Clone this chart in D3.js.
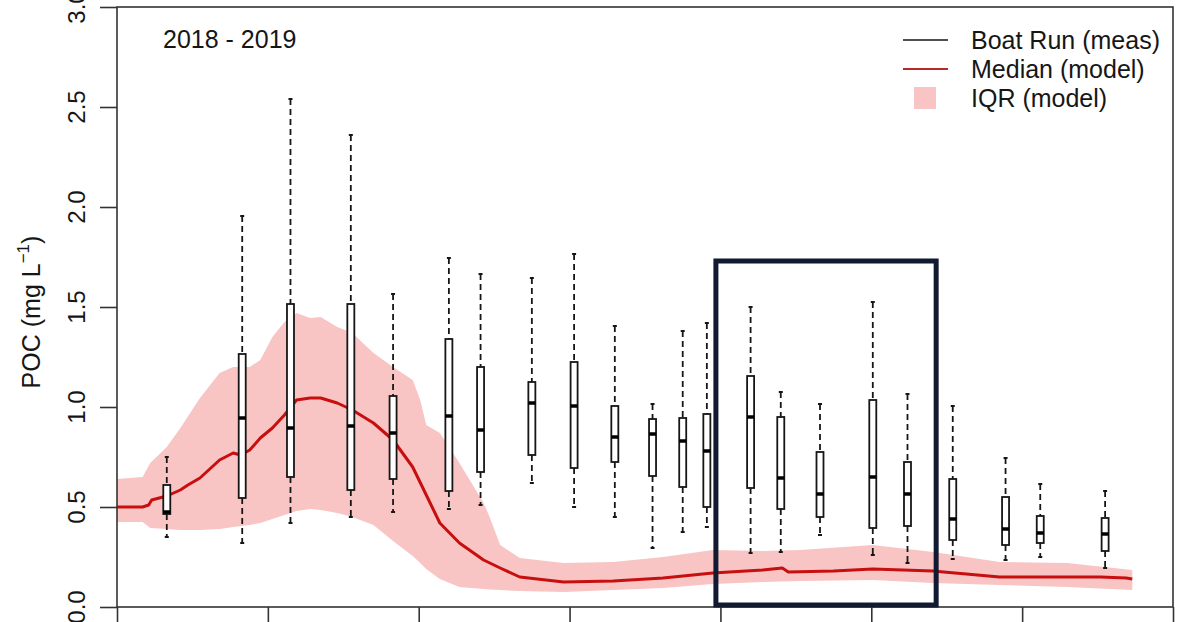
<!DOCTYPE html>
<html>
<head>
<meta charset="utf-8">
<script src="https://cdn.jsdelivr.net/npm/d3@7"></script>
<style>
  body { margin: 0; background: #fff; }
  svg { display: block; font-family: "Liberation Sans", Arial, sans-serif; }
</style>
</head>
<body>
<svg id="chart" width="1190" height="622"></svg>
<script>
// x is in axis-tick units (8 ticks, 0..7), y is POC in mg/L

// model IQR band
const bandX    = [0, 0.17, 0.22, 0.33, 0.42, 0.55, 0.68, 0.77, 0.88, 0.95, 1.03, 1.11, 1.19, 1.28, 1.35, 1.46, 1.56, 1.70, 1.83, 1.96, 2.01, 2.05, 2.14, 2.27, 2.43, 2.47, 2.54, 2.67, 2.96, 3.29, 3.62, 3.95, 4.28, 4.53, 5.01, 5.41, 5.85, 6.30, 6.73];
const bandLow  = [0.425, 0.425, 0.395, 0.39, 0.385, 0.385, 0.39, 0.40, 0.41, 0.42, 0.44, 0.46, 0.48, 0.49, 0.485, 0.47, 0.45, 0.41, 0.33, 0.255, 0.22, 0.19, 0.14, 0.10, 0.09, 0.088, 0.085, 0.08, 0.075, 0.085, 0.095, 0.115, 0.125, 0.13, 0.135, 0.12, 0.11, 0.10, 0.085];
const bandHigh = [0.64, 0.65, 0.72, 0.80, 0.895, 1.045, 1.17, 1.20, 1.20, 1.235, 1.35, 1.425, 1.47, 1.445, 1.45, 1.40, 1.37, 1.27, 1.20, 1.135, 1.035, 0.91, 0.87, 0.72, 0.52, 0.45, 0.31, 0.245, 0.22, 0.225, 0.25, 0.285, 0.28, 0.285, 0.31, 0.275, 0.225, 0.22, 0.185];

// model median
const medX = [0, 0.17, 0.21, 0.23, 0.33, 0.42, 0.47, 0.55, 0.68, 0.77, 0.82, 0.88, 0.95, 1.03, 1.11, 1.19, 1.28, 1.35, 1.46, 1.56, 1.70, 1.83, 1.96, 2.05, 2.14, 2.27, 2.43, 2.54, 2.67, 2.96, 3.29, 3.62, 3.95, 4.28, 4.41, 4.45, 4.75, 5.01, 5.41, 5.48, 5.63, 5.85, 6.30, 6.52, 6.69, 6.73];
const medY = [0.50, 0.50, 0.51, 0.535, 0.555, 0.585, 0.61, 0.645, 0.735, 0.77, 0.76, 0.785, 0.845, 0.895, 0.96, 1.035, 1.045, 1.045, 1.02, 0.985, 0.92, 0.835, 0.70, 0.56, 0.42, 0.32, 0.235, 0.195, 0.15, 0.125, 0.13, 0.145, 0.17, 0.185, 0.195, 0.175, 0.18, 0.19, 0.18, 0.175, 0.165, 0.15, 0.15, 0.15, 0.145, 0.14];

// boat run boxplots
const boxX  = [0.33, 0.83, 1.15, 1.55, 1.83, 2.20, 2.41, 2.75, 3.03, 3.30, 3.55, 3.75, 3.91, 4.20, 4.40, 4.66, 5.01, 5.24, 5.54, 5.89, 6.12, 6.55];
const boxLo = [0.35, 0.32, 0.42, 0.45, 0.475, 0.49, 0.51, 0.62, 0.50, 0.45, 0.295, 0.375, 0.40, 0.27, 0.275, 0.36, 0.26, 0.22, 0.24, 0.235, 0.25, 0.195];
const boxQ1 = [0.465, 0.545, 0.65, 0.585, 0.64, 0.58, 0.675, 0.76, 0.695, 0.725, 0.655, 0.60, 0.50, 0.595, 0.49, 0.45, 0.395, 0.405, 0.335, 0.31, 0.32, 0.28];
const boxMd = [0.475, 0.945, 0.895, 0.905, 0.87, 0.955, 0.885, 1.02, 1.005, 0.85, 0.865, 0.83, 0.78, 0.95, 0.645, 0.565, 0.65, 0.565, 0.44, 0.39, 0.37, 0.365];
const boxQ3 = [0.61, 1.265, 1.515, 1.515, 1.055, 1.34, 1.20, 1.125, 1.225, 1.005, 0.94, 0.945, 0.965, 1.155, 0.95, 0.775, 1.035, 0.725, 0.64, 0.55, 0.455, 0.445];
const boxHi = [0.75, 1.955, 2.54, 2.36, 1.565, 1.745, 1.665, 1.645, 1.765, 1.405, 1.015, 1.38, 1.42, 1.50, 1.075, 1.015, 1.525, 1.065, 1.005, 0.745, 0.615, 0.58];

const yTicks = [0, 0.5, 1, 1.5, 2, 2.5, 3];
const xTicks = [0, 1, 2, 3, 4, 5, 6, 7];
const legendLabels = ['Boat Run (meas)', 'Median (model)', 'IQR (model)'];
const highlight = [3.97, 5.43, 0.01, 1.73]; // x0, x1, y0, y1

const svg = d3.select('#chart');
const x = d3.scaleLinear().domain([0, 7]).range([117, 1173]);
const y = d3.scaleLinear().domain([0, 3]).range([607, 7]);

const bandColor = '#f9c4c4';
const redColor = '#c80f0f';
const ink = '#161616';
const fs = 25;

// IQR band
const band = bandX.map((d, i) => ({ x: d, lo: bandLow[i], hi: bandHigh[i] }));
svg.append('path')
  .datum(band)
  .attr('fill', bandColor)
  .attr('d', d3.area().x(d => x(d.x)).y0(d => y(d.lo)).y1(d => y(d.hi)));

// median line
svg.append('path')
  .datum(medX.map((d, i) => [d, medY[i]]))
  .attr('fill', 'none')
  .attr('stroke', redColor)
  .attr('stroke-width', 3)
  .attr('stroke-linejoin', 'round')
  .attr('d', d3.line().x(d => x(d[0])).y(d => y(d[1])));

// boxplots
const boxes = boxX.map((d, i) => ({ x: d, lo: boxLo[i], q1: boxQ1[i], md: boxMd[i], q3: boxQ3[i], hi: boxHi[i] }));
const bw = 7, sw = 2;
const g = svg.append('g').selectAll('g').data(boxes).join('g');

g.append('line')
  .attr('x1', d => x(d.x)).attr('x2', d => x(d.x))
  .attr('y1', d => y(d.hi)).attr('y2', d => y(d.q3))
  .attr('stroke', ink).attr('stroke-width', 1.8).attr('stroke-dasharray', '6,4');
g.append('line')
  .attr('x1', d => x(d.x)).attr('x2', d => x(d.x))
  .attr('y1', d => y(d.q1)).attr('y2', d => y(d.lo))
  .attr('stroke', ink).attr('stroke-width', 1.8).attr('stroke-dasharray', '6,4');
g.append('line')
  .attr('x1', d => x(d.x) - sw).attr('x2', d => x(d.x) + sw)
  .attr('y1', d => y(d.hi)).attr('y2', d => y(d.hi))
  .attr('stroke', ink).attr('stroke-width', 2);
g.append('line')
  .attr('x1', d => x(d.x) - sw).attr('x2', d => x(d.x) + sw)
  .attr('y1', d => y(d.lo)).attr('y2', d => y(d.lo))
  .attr('stroke', ink).attr('stroke-width', 2);
g.append('rect')
  .attr('x', d => x(d.x) - bw / 2)
  .attr('y', d => y(d.q3))
  .attr('width', bw)
  .attr('height', d => y(d.q1) - y(d.q3))
  .attr('fill', '#fff').attr('stroke', ink).attr('stroke-width', 1.8);
g.append('line')
  .attr('x1', d => x(d.x) - bw / 2).attr('x2', d => x(d.x) + bw / 2)
  .attr('y1', d => y(d.md)).attr('y2', d => y(d.md))
  .attr('stroke', '#000').attr('stroke-width', 3.5);

// plot box
svg.append('rect')
  .attr('x', x(0)).attr('y', y(3))
  .attr('width', x(7) - x(0)).attr('height', y(0) - y(3))
  .attr('fill', 'none').attr('stroke', '#333').attr('stroke-width', 1.6);

// axes
svg.append('g')
  .attr('transform', `translate(${x(0)},0)`)
  .call(d3.axisLeft(y).tickValues(yTicks).tickSize(17).tickFormat(''))
  .call(a => a.select('.domain').remove())
  .call(a => a.selectAll('line').attr('stroke', '#333').attr('stroke-width', 1.6));

svg.append('g').selectAll('text').data(yTicks).join('text')
  .attr('transform', d => `translate(85,${y(d)}) rotate(-90)`)
  .attr('text-anchor', 'middle')
  .attr('font-size', 24)
  .attr('fill', ink)
  .text(d => d3.format('.1f')(d));

svg.append('g')
  .attr('transform', `translate(0,${y(0)})`)
  .call(d3.axisBottom(x).tickValues(xTicks).tickSize(20).tickFormat(''))
  .call(a => a.select('.domain').remove())
  .call(a => a.selectAll('line').attr('stroke', '#333').attr('stroke-width', 1.6));

// y label
const yl = svg.append('text')
  .attr('transform', `translate(40,${(y(0) + y(3)) / 2 + 5}) rotate(-90)`)
  .attr('text-anchor', 'middle')
  .attr('font-size', fs)
  .attr('fill', ink);
yl.append('tspan').text('POC (mg L');
yl.append('tspan').attr('font-size', 17).attr('dy', -11).text('−1');
yl.append('tspan').attr('dy', 11).text(')');

// period label
svg.append('text')
  .attr('x', 163).attr('y', 48)
  .attr('font-size', fs).attr('fill', ink)
  .text('2018 - 2019');

// legend
const legend = svg.append('g');
const rowY = [40, 69, 98];
legend.append('line')
  .attr('x1', 903).attr('x2', 948).attr('y1', rowY[0]).attr('y2', rowY[0])
  .attr('stroke', ink).attr('stroke-width', 1.5);
legend.append('line')
  .attr('x1', 903).attr('x2', 948).attr('y1', rowY[1]).attr('y2', rowY[1])
  .attr('stroke', '#b52a2a').attr('stroke-width', 2);
legend.append('rect')
  .attr('x', 914).attr('y', rowY[2] - 11).attr('width', 22).attr('height', 22)
  .attr('fill', bandColor);
legend.selectAll('text').data(legendLabels).join('text')
  .attr('x', 971).attr('y', (d, i) => rowY[i] + 9)
  .attr('font-size', fs).attr('fill', ink)
  .text(d => d);

// highlight box
svg.append('rect')
  .attr('x', x(highlight[0])).attr('y', y(highlight[3]))
  .attr('width', x(highlight[1]) - x(highlight[0]))
  .attr('height', y(highlight[2]) - y(highlight[3]))
  .attr('fill', 'none').attr('stroke', '#121a31').attr('stroke-width', 5);
</script>
</body>
</html>
